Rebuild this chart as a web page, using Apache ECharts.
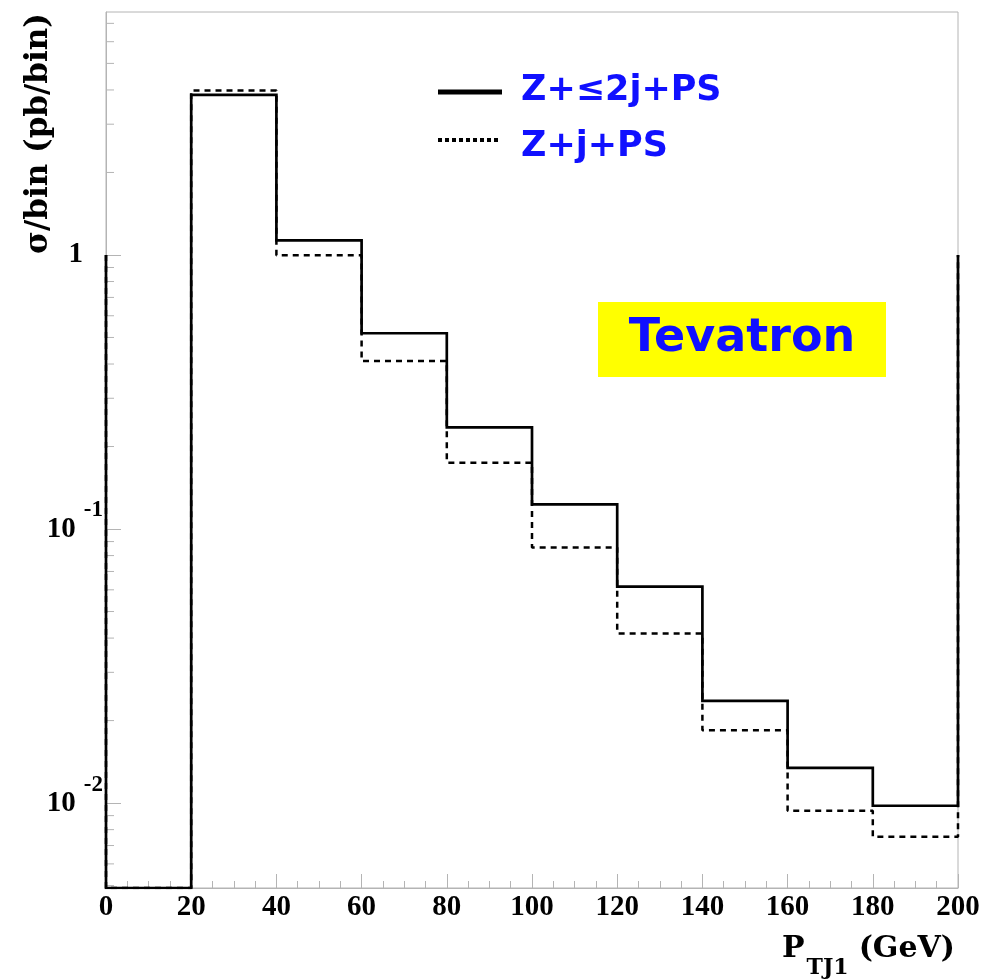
<!DOCTYPE html>
<html>
<head>
<meta charset="utf-8">
<script src="https://cdn.jsdelivr.net/npm/echarts@6/dist/echarts.min.js"></script>
<style>
html,body{margin:0;padding:0;background:#fff;}
#main{width:983px;height:979px;}
</style>
</head>
<body>
<div id="main"></div>
<script>
// ---- data ----
const binEdges = [0, 20, 40, 60, 80, 100, 120, 140, 160, 180, 200];
const zLe2jPS = [0, 3.84, 1.13, 0.518, 0.235, 0.123, 0.0616, 0.0236, 0.01345, 0.00978];
const zjPS    = [0, 3.98, 0.997, 0.410, 0.1746, 0.0857, 0.0416, 0.01846, 0.00937, 0.00754];
const seriesNames = ['Z+\u22642j+PS', 'Z+j+PS'];
const xTicks = [0, 20, 40, 60, 80, 100, 120, 140, 160, 180, 200];
const yMin = 0.0049;
const yMax = 7.7;
const edgeLevel = 1;   // vertical edges drawn at x=0 and x=200 up to 1
const minorMantissas = [2, 3, 4, 5, 6, 7, 8, 9];
const decades = [0.001, 0.01, 0.1, 1];

function stepPoints(vals) {
  const pts = [[binEdges[0], edgeLevel]];
  for (let i = 0; i < vals.length; i++) {
    const v = vals[i] > 0 ? vals[i] : yMin;
    pts.push([binEdges[i], v]);
    pts.push([binEdges[i + 1], v]);
  }
  pts.push([binEdges[binEdges.length - 1], edgeLevel]);
  return pts;
}

const minorTickData = [];
decades.forEach(d => minorMantissas.forEach(m => {
  const v = m * d;
  if (v >= yMin && v <= yMax) minorTickData.push([0, v]);
}));

const frameColor = '#b4b4b4';
const serif = '"Liberation Serif", "DejaVu Serif", serif';
const wideSerif = '"DejaVu Serif", "Liberation Serif", serif';
const comic = '"Comic Sans MS", "DejaVu Sans", sans-serif';
const blue = '#1010ff';

const chart = echarts.init(document.getElementById('main'), null, {renderer: 'canvas'});
chart.setOption({
  animation: false,
  backgroundColor: '#fff',
  grid: {left: 106, right: 25, top: 12, bottom: 91, show: true, borderColor: frameColor, borderWidth: 1},
  xAxis: {
    type: 'value', min: 0, max: 200, interval: 20,
    name: '{p|P}{sub|TJ1}{g|(GeV)}{z| }',
    nameLocation: 'end', nameGap: -3,
    nameTextStyle: {
      align: 'right', verticalAlign: 'top', padding: [46, 0, 0, 0],
      rich: {
        p: {fontFamily: wideSerif, fontWeight: 'bold', fontSize: 30, lineHeight: 30, verticalAlign: 'top', color: '#000'},
        sub: {fontFamily: wideSerif, fontWeight: 'bold', fontSize: 22, lineHeight: 22, verticalAlign: 'bottom', color: '#000', padding: [0, 10, 0, 2]},
        g: {fontFamily: wideSerif, fontWeight: 'bold', fontSize: 30, lineHeight: 30, verticalAlign: 'top', color: '#000'},
        z: {fontSize: 1, width: 0, lineHeight: 45}
      }
    },
    axisLine: {show: true, lineStyle: {color: frameColor, width: 1}},
    axisTick: {show: true, inside: true, length: 14, lineStyle: {color: frameColor}},
    minorTick: {show: true, splitNumber: 4, length: 7, lineStyle: {color: frameColor}},
    splitLine: {show: false},
    axisLabel: {
      margin: 5, color: '#000', fontFamily: serif, fontWeight: 'bold', fontSize: 29,
      formatter: v => (xTicks.indexOf(v) >= 0 ? String(v) : '')
    }
  },
  yAxis: {
    type: 'log', logBase: 10, min: yMin, max: yMax,
    name: '\u03c3/bin (pb/bin)',
    nameLocation: 'end', nameGap: -1, nameRotate: 90,
    nameTextStyle: {
      align: 'right', verticalAlign: 'bottom', padding: [0, 0, 52, 0],
      fontFamily: wideSerif, fontWeight: 'bold', fontSize: 31, color: '#000'
    },
    axisLine: {show: true, lineStyle: {color: frameColor, width: 1}},
    axisTick: {show: true, inside: true, length: 15, lineStyle: {color: frameColor}},
    splitLine: {show: false},
    axisLabel: {
      margin: 3, showMinLabel: false, showMaxLabel: false,
      formatter: function (v) {
        const e = Math.round(Math.log10(v));
        if (e === 0) return '{b|1}{sp| }';
        return '{b|10}{gap| }{s|' + e + '}';
      },
      rich: {
        b: {fontFamily: serif, fontWeight: 'bold', fontSize: 29, lineHeight: 60, verticalAlign: 'middle', color: '#000'},
        s: {fontFamily: serif, fontWeight: 'bold', fontSize: 23, lineHeight: 18, verticalAlign: 'top', color: '#000'},
        sp: {width: 20, fontSize: 10},
        gap: {width: 8, fontSize: 10}
      }
    }
  },
  series: [
    {
      name: 'minor ticks', type: 'custom', coordinateSystem: 'cartesian2d',
      silent: true, clip: false, z: 1,
      data: minorTickData,
      renderItem: function (params, api) {
        const p = api.coord([api.value(0), api.value(1)]);
        return {type: 'line', shape: {x1: p[0], y1: p[1], x2: p[0] + 8, y2: p[1]},
                style: {stroke: frameColor, lineWidth: 1}};
      }
    },
    {
      name: seriesNames[1], type: 'line', data: stepPoints(zjPS),
      showSymbol: false, symbol: 'none', z: 3,
      lineStyle: {color: '#000', width: 2.5, type: [6, 5], cap: 'butt'}
    },
    {
      name: seriesNames[0], type: 'line', data: stepPoints(zLe2jPS),
      showSymbol: false, symbol: 'none', z: 4,
      lineStyle: {color: '#000', width: 2.7, join: 'miter'}
    }
  ],
  graphic: [
    {type: 'line', shape: {x1: 438, y1: 92, x2: 502, y2: 92}, style: {stroke: '#000', lineWidth: 5}},
    {type: 'line', shape: {x1: 438, y1: 140, x2: 500, y2: 140}, style: {stroke: '#000', lineWidth: 4, lineDash: [4, 3]}},
    {type: 'text', left: 521, top: 73, style: {text: seriesNames[0], fill: blue, font: 'bold 35px ' + comic}},
    {type: 'text', left: 521, top: 129, style: {text: seriesNames[1], fill: blue, font: 'bold 35px ' + comic}},
    {type: 'rect', shape: {x: 598, y: 302, width: 288, height: 75}, style: {fill: '#ffff00'}},
    {type: 'text', x: 742, y: 339, style: {text: 'Tevatron', fill: blue, font: 'bold 46px ' + comic, align: 'center', verticalAlign: 'middle'}}
  ]
});
</script>
</body>
</html>
